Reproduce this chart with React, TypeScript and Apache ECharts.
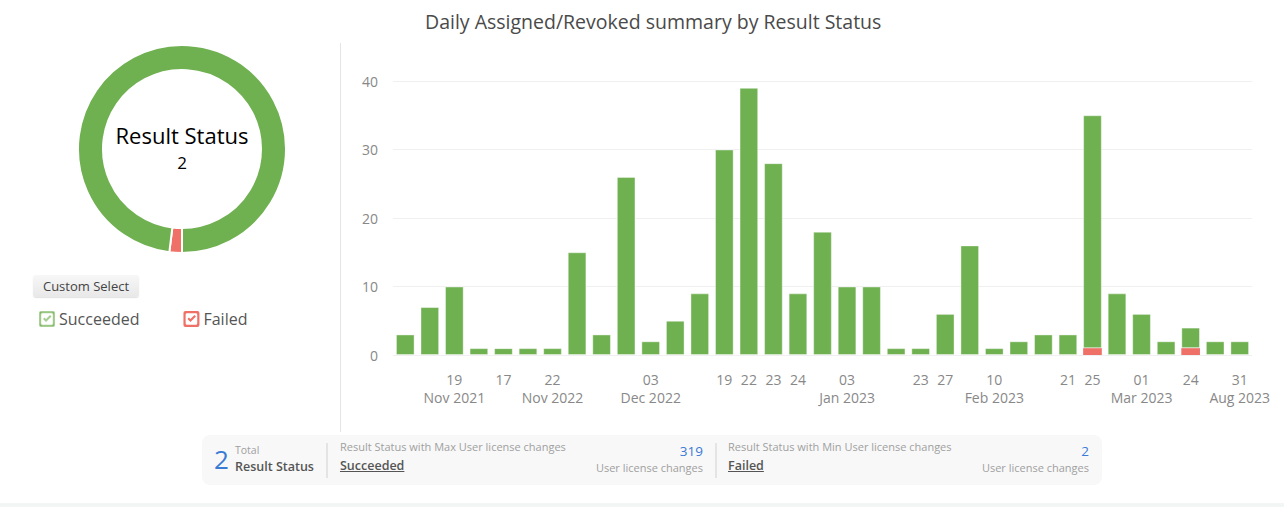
import React, { useEffect, useRef } from "react";
import * as echarts from "echarts";

const dayLabels = ["", "", "19\nNov 2021", "", "17", "", "22\nNov 2022", "", "", "", "03\nDec 2022", "", "", "19", "22", "23", "24", "", "03\nJan 2023", "", "", "23", "27", "", "10\nFeb 2023", "", "", "21", "25", "", "01\nMar 2023", "", "24", "", "31\nAug 2023"];
const succeeded = [3, 7, 10, 1, 1, 1, 1, 15, 3, 26, 2, 5, 9, 30, 39, 28, 9, 18, 10, 10, 1, 1, 6, 16, 1, 2, 3, 3, 34, 9, 6, 2, 3, 2, 2];
const failed = [0, 0, 0, 0, 0, 0, 0, 0, 0, 0, 0, 0, 0, 0, 0, 0, 0, 0, 0, 0, 0, 0, 0, 0, 0, 0, 0, 0, 1, 0, 0, 0, 1, 0, 0];
const statusNames = ["Succeeded", "Failed"];
const yTicks = { min: 0, max: 40, interval: 10 };

const GREEN = "#6fb050";
const RED = "#ef7067";
const BLUE = "#3a7bd5";
const FONT = "Open Sans";

const checkIcon =
  "path://M2,0 H14 Q16,0 16,2 V14 Q16,16 14,16 H2 Q0,16 0,14 V2 Q0,0 2,0 Z M3.6,2.2 Q2.2,2.2 2.2,3.6 V12.4 Q2.2,13.8 3.6,13.8 H12.4 Q13.8,13.8 13.8,12.4 V3.6 Q13.8,2.2 12.4,2.2 Z M4,8 L5.5,6.5 L7,8 L11,4 L12.5,5.5 L7,11 Z";

const sum = (a: number[]) => a.reduce((s, v) => s + v, 0);

export default function App() {
  const ref = useRef<HTMLDivElement>(null);
  useEffect(() => {
    if (!ref.current) return;
    const chart = echarts.init(ref.current, null, { renderer: "svg" });
    const totals = [sum(succeeded), sum(failed)];
    chart.setOption({
      animation: false,
      textStyle: { fontFamily: FONT },
      title: {
        text: "Daily Assigned/Revoked summary by Result Status",
        left: 420,
        top: 6,
        textStyle: { fontFamily: FONT, fontSize: 19.5, fontWeight: "normal", color: "#4a4a4a" },
      },
      legend: {
        data: statusNames,
        left: 38,
        top: 310,
        padding: 0,
        itemWidth: 16,
        itemHeight: 16,
        itemGap: 44,
        icon: checkIcon,
        textStyle: { fontFamily: FONT, fontSize: 16, color: "#555", padding: [0, 0, 0, -1] },
      },
      grid: { left: 393, right: 32, top: 81, bottom: 152 },
      xAxis: {
        type: "category",
        data: dayLabels,
        axisLine: { show: false },
        axisTick: { show: false },
        axisLabel: { interval: 0, fontSize: 14, color: "#888", lineHeight: 17.5, margin: 16, fontFamily: FONT },
      },
      yAxis: {
        type: "value",
        min: yTicks.min,
        max: yTicks.max,
        interval: yTicks.interval,
        axisLabel: { fontSize: 14, color: "#888", margin: 15, fontFamily: FONT },
        splitLine: { lineStyle: { color: "#f0f0f0" } },
      },
      graphic: [
        { type: "line", shape: { x1: 340.5, y1: 43, x2: 340.5, y2: 432 }, style: { stroke: "#e4e4e4", lineWidth: 1 } },
        {
          type: "text",
          x: 182,
          y: 135,
          style: { text: "Result Status", fontSize: 22, fontFamily: FONT, fill: "#000", textAlign: "center", textVerticalAlign: "middle" },
        },
        {
          type: "text",
          x: 182,
          y: 162,
          style: { text: String(statusNames.length), fontSize: 17, fontFamily: FONT, fill: "#000", textAlign: "center", textVerticalAlign: "middle" },
        },
        { type: "rect", shape: { x: 0, y: 503, width: 1284, height: 4 }, style: { fill: "#f2f6f5" } },
      ],
      series: [
        {
          type: "pie",
          center: [182, 149],
          radius: [79, 104],
          startAngle: 270,
          minAngle: 7,
          label: { show: false },
          labelLine: { show: false },
          itemStyle: { borderColor: "#fff", borderWidth: 2 },
          emphasis: { disabled: true },
          data: [
            { name: statusNames[1], value: totals[1], itemStyle: { color: RED } },
            { name: statusNames[0], value: totals[0], itemStyle: { color: GREEN } },
          ],
        },
        {
          name: statusNames[1],
          type: "bar",
          stack: "s",
          barWidth: "76%",
          itemStyle: { color: RED },
          data: failed.map((v) => (v === 0 ? null : v)),
        },
        {
          name: statusNames[0],
          type: "bar",
          stack: "s",
          barWidth: "76%",
          itemStyle: { color: GREEN, borderColor: "rgba(255,255,255,0.4)", borderWidth: 1 },
          data: succeeded,
        },
      ],
    });
    return () => chart.dispose();
  }, []);

  const sVal = sum(succeeded);
  const fVal = sum(failed);
  const small: React.CSSProperties = { position: "absolute", fontSize: 10.5, color: "#a0a0a0", whiteSpace: "nowrap", lineHeight: "14px" };
  const sub: React.CSSProperties = { position: "absolute", fontSize: 11, color: "#a0a0a0", whiteSpace: "nowrap", lineHeight: "15px" };
  const name: React.CSSProperties = { position: "absolute", fontSize: 12.5, color: "#555", fontWeight: 600, whiteSpace: "nowrap", lineHeight: "17px" };
  const num: React.CSSProperties = { position: "absolute", fontSize: 13.5, color: BLUE, whiteSpace: "nowrap", lineHeight: "18px" };
  const divider: React.CSSProperties = { position: "absolute", top: 8, width: 2, height: 35, background: "#e4e4e4" };

  return (
    <div style={{ position: "absolute", left: 0, top: 0, width: 1284, height: 507, fontFamily: FONT, background: "#fff" }}>
      <div ref={ref} style={{ position: "absolute", left: 0, top: 0, width: 1284, height: 507 }} />
      <div
        style={{
          position: "absolute",
          left: 33,
          top: 275,
          width: 106,
          height: 22,
          borderRadius: 3,
          background: "linear-gradient(#f7f7f7, #e8e8e8)",
          boxShadow: "0 1px 1px rgba(0,0,0,0.12)",
          fontSize: 13,
          color: "#444",
          lineHeight: "22px",
          textAlign: "center",
          whiteSpace: "nowrap",
        }}
      >
        Custom Select
      </div>
      <div style={{ position: "absolute", left: 202, top: 435, width: 900, height: 50, background: "#f8f8f8", borderRadius: 8 }}>
        <div style={{ position: "absolute", left: 12, top: 9, fontSize: 26, color: BLUE, lineHeight: "30px" }}>{statusNames.length}</div>
        <div style={{ ...small, left: 33, top: 8 }}>Total</div>
        <div style={{ ...name, left: 33, top: 22.5 }}>Result Status</div>
        <div style={{ ...divider, left: 124 }} />
        <div style={{ ...small, left: 138, top: 5, fontSize: 11 }}>Result Status with Max User license changes</div>
        <div style={{ ...name, left: 138, top: 21.5, textDecoration: "underline" }}>{sVal >= fVal ? statusNames[0] : statusNames[1]}</div>
        <div style={{ ...num, right: 399, top: 6.5 }}>{Math.max(sVal, fVal)}</div>
        <div style={{ ...sub, right: 399, top: 24.5 }}>User license changes</div>
        <div style={{ ...divider, left: 513 }} />
        <div style={{ ...small, left: 526, top: 5, fontSize: 11 }}>Result Status with Min User license changes</div>
        <div style={{ ...name, left: 526, top: 21.5, textDecoration: "underline" }}>{sVal >= fVal ? statusNames[1] : statusNames[0]}</div>
        <div style={{ ...num, right: 13, top: 6.5 }}>{Math.min(sVal, fVal)}</div>
        <div style={{ ...sub, right: 13, top: 24.5 }}>User license changes</div>
      </div>
    </div>
  );
}
